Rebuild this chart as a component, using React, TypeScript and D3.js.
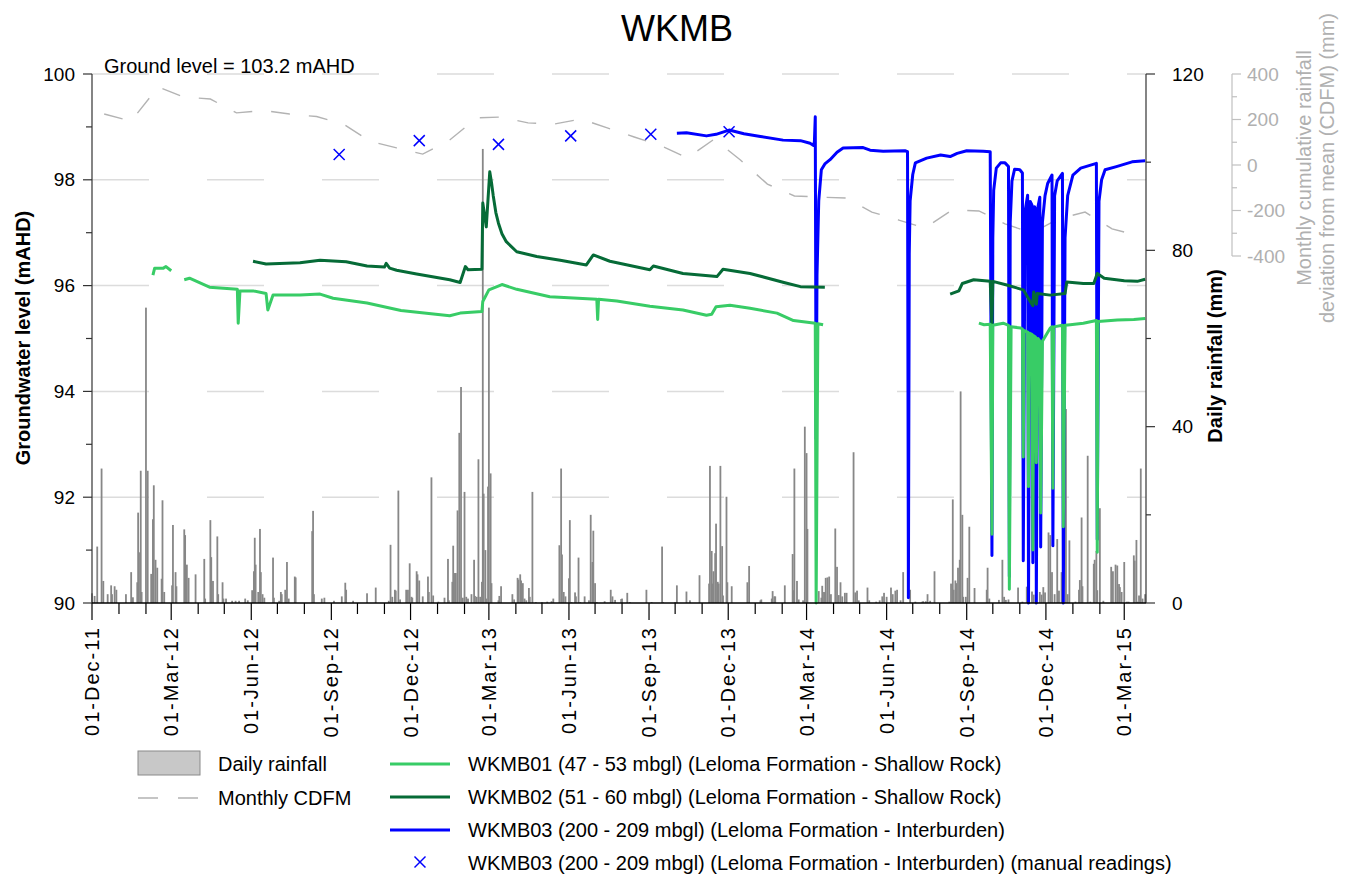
import React from "react";
import * as d3 from "d3";

// ---------- axis / label data ----------
const xStart = "2011-12-01";
const xEnd = "2015-03-26";
const gwTicks = [90, 92, 94, 96, 98, 100];
const rainTicks = [0, 40, 80, 120];
const cdfmTicks = [-400, -200, 0, 200, 400];

// ---------- daily rainfall (mm) ----------
const rainfall: [string, number][] = [
  ["2011-12-01",2.2],["2011-12-04",1.6],["2011-12-07",12.8],["2011-12-12",30.5],["2011-12-14",5],["2011-12-19",2],["2011-12-23",4],["2011-12-24",2],["2011-12-27",3.8],["2011-12-29",3],
  ["2012-01-09",2],["2012-01-15",7],["2012-01-17",1.3],["2012-01-22",4.7],["2012-01-23",20.5],["2012-01-24",11.5],["2012-01-26",30],["2012-01-27",2.5],
  ["2012-02-01",67],["2012-02-03",30],["2012-02-07",6.6],["2012-02-09",19],["2012-02-10",26.7],["2012-02-12",9.8],["2012-02-14",8],["2012-02-19",5.5],["2012-02-20",23.3],["2012-02-22",2.5],
  ["2012-03-02",4],["2012-03-03",17.7],["2012-03-06",7],["2012-03-07",3.8],["2012-03-16",16.7],["2012-03-17",15.4],["2012-03-19",8.7],["2012-03-21",5.7],["2012-03-29",6.5],
  ["2012-04-08",10],["2012-04-09",1],["2012-04-15",18.8],["2012-04-16",10.4],["2012-04-18",5],["2012-04-23",15.1],["2012-04-24",2],["2012-04-29",4.7],["2012-04-30",1],
  ["2012-05-03",1],["2012-05-10",0.5],["2012-05-14",0.5],["2012-05-18",0.5],["2012-05-25",1],["2012-05-28",0.6],
  ["2012-06-02",2.9],["2012-06-04",7.2],["2012-06-05",14.8],["2012-06-06",8.7],["2012-06-09",2.5],["2012-06-11",16.8],["2012-06-12",7],["2012-06-14",2],["2012-06-16",1.2],["2012-06-26",10.3],["2012-06-27",1.2],
  ["2012-07-03",0.5],["2012-07-05",2.5],["2012-07-06",2],["2012-07-10",3],["2012-07-12",9.3],["2012-07-14",1],["2012-07-21",6],["2012-07-22",5.8],
  ["2012-08-10",16.3],["2012-08-11",20.9],["2012-08-12",2],["2012-08-21",1],["2012-08-24",1.2],
  ["2012-09-04",0.5],["2012-09-13",1.5],["2012-09-17",4.6],["2012-09-18",3],["2012-09-26",0.5],
  ["2012-10-12",2.2],["2012-10-22",3.5],
  ["2012-11-06",0.5],["2012-11-08",13.2],["2012-11-10",1.4],["2012-11-13",3],["2012-11-14",2.8],["2012-11-17",25.5],["2012-11-19",0.8],["2012-11-26",3],["2012-11-28",3],["2012-11-30",9],
  ["2012-12-02",1.4],["2012-12-03",1.2],["2012-12-08",7.2],["2012-12-09",6.5],["2012-12-11",5.1],["2012-12-15",1.5],["2012-12-21",6],["2012-12-22",2.5],["2012-12-25",28.5],["2012-12-27",1.7],
  ["2013-01-02",0.3],["2013-01-09",1.2],["2013-01-13",10],["2013-01-14",0.6],["2013-01-18",4.8],["2013-01-19",13],["2013-01-21",6.8],["2013-01-22",6.8],["2013-01-24",21],["2013-01-26",38.6],["2013-01-28",49],["2013-01-30",1.2],
  ["2013-02-01",25.2],["2013-02-03",1.4],["2013-02-05",1],["2013-02-09",2],["2013-02-12",9.8],["2013-02-13",1.6],["2013-02-15",1.4],["2013-02-17",32.6],["2013-02-19",1.4],["2013-02-21",4.8],["2013-02-22",103],["2013-02-23",24.8],["2013-02-25",12],["2013-02-26",1],["2013-02-28",26.4],
  ["2013-03-01",67],["2013-03-03",29.4],["2013-03-04",4.5],["2013-03-12",0.6],["2013-03-13",1.6],["2013-03-15",3.8],["2013-03-28",2],["2013-03-30",0.8],
  ["2013-04-03",5.7],["2013-04-04",5.3],["2013-04-06",6.5],["2013-04-07",5.1],["2013-04-09",4.5],["2013-04-11",1],["2013-04-13",0.6],["2013-04-16",3.4],["2013-04-17",1.4],["2013-04-20",25.2],["2013-04-24",0.2],
  ["2013-05-01",0.2],["2013-05-07",0.3],["2013-05-12",0.4],["2013-05-14",1],["2013-05-21",13.1],["2013-05-23",30.5],["2013-05-24",11],["2013-05-26",2.5],["2013-05-28",1.5],
  ["2013-06-01",5.6],["2013-06-02",18.8],["2013-06-04",0.2],["2013-06-08",2.4],["2013-06-09",1.5],["2013-06-12",10.3],["2013-06-14",0.2],["2013-06-19",1.5],["2013-06-24",0.6],["2013-06-26",20],["2013-06-28",9.3],["2013-06-29",16.4],
  ["2013-07-01",4.5],["2013-07-03",0.2],["2013-07-12",0.4],["2013-07-19",3],["2013-07-21",1.5],["2013-07-24",0.7],["2013-07-31",0.9],
  ["2013-08-01",1],["2013-08-07",2.3],["2013-08-10",0.2],["2013-08-29",3],
  ["2013-09-04",0.2],["2013-09-16",12.8],["2013-09-17",0.2],
  ["2013-10-01",0.2],["2013-10-03",4],["2013-10-14",2.6],["2013-10-18",0.6],["2013-10-29",6.3],
  ["2013-11-09",4.4],["2013-11-10",31.1],["2013-11-12",11.8],["2013-11-13",4.4],["2013-11-14",7.2],["2013-11-16",11.3],["2013-11-17",18],["2013-11-19",4.8],["2013-11-20",4.4],["2013-11-22",31.1],["2013-11-24",12.9],["2013-11-25",1.7],["2013-11-29",24.1],["2013-11-30",4.7],
  ["2013-12-05",3.8],["2013-12-23",4.7],["2013-12-25",8.4],
  ["2014-01-07",0.6],["2014-01-08",0.8],["2014-01-20",1],["2014-01-21",2.7],["2014-01-23",1.5],["2014-01-24",1.5],
  ["2014-02-04",4],["2014-02-13",11.1],["2014-02-14",2.9],["2014-02-15",30.5],["2014-02-18",5],["2014-02-20",0.8],["2014-02-25",0.6],["2014-02-27",40],
  ["2014-03-01",34],["2014-03-02",16.8],["2014-03-12",1],["2014-03-15",2.7],["2014-03-18",1.2],["2014-03-19",3.9],["2014-03-21",2.5],["2014-03-22",2.4],["2014-03-23",5.7],["2014-03-25",5.8],["2014-03-27",6],["2014-03-29",2],
  ["2014-04-03",16.9],["2014-04-05",8.2],["2014-04-07",1.8],["2014-04-09",4.7],["2014-04-11",1.5],["2014-04-14",2.3],["2014-04-16",2.3],["2014-04-24",34.2],["2014-04-26",2.4],["2014-04-28",2.8],["2014-04-30",0.6],
  ["2014-05-10",3.5],["2014-05-12",0.6],["2014-05-20",0.3],["2014-05-24",0.6],["2014-05-27",1.5],["2014-05-29",2.3],
  ["2014-06-01",1.4],["2014-06-06",3.5],["2014-06-08",2],["2014-06-11",2.8],["2014-06-13",3],["2014-06-17",0.6],["2014-06-20",7],["2014-06-28",3],
  ["2014-07-04",0.3],["2014-07-12",0.3],["2014-07-13",0.4],["2014-07-16",0.4],["2014-07-18",2],["2014-07-21",0.5],["2014-07-26",7.2],
  ["2014-08-12",0.3],["2014-08-14",4.4],["2014-08-16",23.5],["2014-08-17",3],["2014-08-19",5.1],["2014-08-20",4.5],["2014-08-22",8],["2014-08-24",9.8],["2014-08-25",48],["2014-08-27",20],["2014-08-28",1.4],["2014-08-31",1.4],
  ["2014-09-02",5.7],["2014-09-04",17.3],["2014-09-10",3.4],["2014-09-24",3],["2014-09-25",8],["2014-09-27",1],
  ["2014-10-08",0.7],["2014-10-12",9.8],["2014-10-14",1.4],["2014-10-16",0.7],["2014-10-19",0.8],["2014-10-30",3.5],
  ["2014-11-04",0.3],["2014-11-09",3.7],["2014-11-15",2.6],["2014-11-17",1.9],["2014-11-24",2.5],["2014-11-26",1.9],["2014-11-28",3.6],["2014-11-30",2.4],
  ["2014-12-04",16],["2014-12-06",15.4],["2014-12-08",7],["2014-12-11",2],["2014-12-14",14.5],["2014-12-16",2.8],["2014-12-19",7],["2014-12-24",44],["2014-12-26",2],["2014-12-28",14.2],
  ["2015-01-04",0.3],["2015-01-08",3],["2015-01-09",5.2],["2015-01-11",19.4],["2015-01-12",3.8],["2015-01-18",33.4],["2015-01-21",0.3],["2015-01-25",8.9],["2015-01-26",9.8],["2015-01-28",11.8],["2015-01-29",2.9],
  ["2015-02-01",21.5],["2015-02-05",0.5],["2015-02-14",8.2],["2015-02-16",7.2],["2015-02-19",8.7],["2015-02-21",8.5],["2015-02-23",4.3],["2015-02-24",3.6],["2015-02-26",2.5],
  ["2015-03-01",9.3],["2015-03-04",0.3],["2015-03-06",0.3],["2015-03-12",10.8],["2015-03-13",9.6],["2015-03-15",14.3],["2015-03-16",0.3],["2015-03-18",1.7],["2015-03-20",30.5],["2015-03-22",1],["2015-03-25",2],
];

// ---------- monthly CDFM (mm), mid-month ----------
const cdfmMonths = [
  "2011-12-15","2012-01-15","2012-02-15","2012-03-15","2012-04-15","2012-05-15","2012-06-15","2012-07-15","2012-08-15","2012-09-15","2012-10-15","2012-11-15",
  "2012-12-15","2013-01-15","2013-02-15","2013-03-15","2013-04-15","2013-05-15","2013-06-15","2013-07-15","2013-08-15","2013-09-15","2013-10-15","2013-11-15",
  "2013-12-15","2014-01-15","2014-02-15","2014-03-15","2014-04-15","2014-05-15","2014-06-15","2014-07-15","2014-08-15","2014-09-15","2014-10-15","2014-11-15",
  "2014-12-15","2015-01-15","2015-02-15","2015-03-15",
];
const cdfmValues = [
  224,193,343,299,290,229,240,224,213,180,105,75,
  48,110,207,211,185,180,202,163,123,84,31,114,
  22,-84,-136,-141,-145,-207,-242,-277,-198,-202,-259,-299,
  -237,-207,-281,-308,
];

// ---------- groundwater levels (mAHD) ----------
type Pt = [string, number | null];
const wkmb01: Pt[] = [
  ["2012-02-09",96.2],["2012-02-11",96.33],["2012-02-21",96.33],["2012-02-24",96.36],["2012-03-01",96.28],["2012-03-08",null],
  ["2012-03-16",96.11],["2012-03-22",96.14],["2012-04-14",95.97],["2012-05-16",95.93],["2012-05-17",95.29],["2012-05-19",95.9],["2012-06-03",95.9],
  ["2012-06-18",95.85],["2012-06-20",95.54],["2012-06-26",95.82],["2012-07-27",95.82],["2012-08-19",95.84],["2012-09-03",95.76],["2012-10-12",95.67],
  ["2012-11-20",95.53],["2013-01-15",95.43],["2013-01-27",95.48],["2013-02-21",95.51],["2013-02-22",95.7],["2013-03-01",95.92],["2013-03-16",96.02],
  ["2013-04-02",95.93],["2013-05-10",95.79],["2013-07-03",95.74],["2013-07-04",95.36],["2013-07-05",95.74],["2013-07-26",95.71],["2013-09-02",95.61],
  ["2013-10-10",95.54],["2013-11-06",95.44],["2013-11-12",95.46],["2013-11-17",95.6],["2013-12-03",95.63],["2013-12-26",95.57],["2014-01-26",95.48],
  ["2014-02-14",95.34],["2014-03-11",95.29],["2014-03-12",90.0],["2014-03-14",95.28],["2014-03-17",95.27],["2014-03-20",95.26],["2014-04-01",null],
  ["2014-09-15",95.29],["2014-09-21",95.26],["2014-09-28",95.27],["2014-09-30",91.3],["2014-10-01",95.25],["2014-10-13",95.29],["2014-10-19",95.25],
  ["2014-10-20",90.26],["2014-10-22",95.22],["2014-11-02",95.2],["2014-11-04",95.18],["2014-11-05",92.76],["2014-11-06",95.15],["2014-11-10",95.12],
  ["2014-11-11",92.2],["2014-11-12",95.1],["2014-11-15",95.08],["2014-11-16",91.0],["2014-11-17",95.05],["2014-11-19",95.03],["2014-11-20",92.65],
  ["2014-11-22",95.0],["2014-11-24",94.95],["2014-11-25",91.7],["2014-11-27",94.95],["2014-12-06",95.2],["2014-12-08",95.22],["2014-12-09",92.17],
  ["2014-12-10",95.22],["2014-12-20",95.25],["2014-12-21",91.44],["2014-12-23",95.25],["2014-12-29",95.26],["2015-01-13",95.29],["2015-01-28",95.34],
  ["2015-01-29",90.96],["2015-01-30",95.32],["2015-02-21",95.35],["2015-03-12",95.36],["2015-03-25",95.38],
];
const wkmb02: Pt[] = [
  ["2012-06-03",96.46],["2012-06-18",96.41],["2012-07-27",96.43],["2012-08-19",96.48],["2012-09-18",96.45],["2012-10-12",96.37],["2012-11-01",96.35],
  ["2012-11-03",96.42],["2012-11-07",96.33],["2012-11-15",96.29],["2012-12-08",96.22],["2013-01-15",96.11],["2013-01-27",96.06],["2013-02-02",96.36],
  ["2013-02-05",96.3],["2013-02-21",96.31],["2013-02-22",97.56],["2013-02-26",97.11],["2013-03-02",98.15],["2013-03-04",97.95],["2013-03-06",97.7],
  ["2013-03-09",97.38],["2013-03-12",97.18],["2013-03-16",96.98],["2013-03-21",96.83],["2013-04-02",96.64],["2013-04-25",96.55],["2013-05-22",96.48],
  ["2013-06-21",96.39],["2013-06-29",96.58],["2013-07-18",96.46],["2013-09-02",96.3],["2013-09-06",96.37],["2013-10-10",96.23],["2013-11-18",96.17],
  ["2013-11-25",96.31],["2013-12-26",96.23],["2014-02-03",96.06],["2014-02-22",95.98],["2014-03-22",95.97],["2014-04-01",null],
  ["2014-08-13",95.84],["2014-08-23",95.9],["2014-08-27",96.04],["2014-09-09",96.11],["2014-09-28",96.08],["2014-09-30",95.2],["2014-10-01",96.08],
  ["2014-10-17",96.01],["2014-11-05",95.92],["2014-11-16",95.62],["2014-11-17",95.88],["2014-11-20",95.65],["2014-11-21",95.85],["2014-12-06",95.82],
  ["2014-12-23",95.85],["2014-12-25",96.07],["2015-01-13",96.04],["2015-01-25",96.04],["2015-01-29",96.23],["2015-02-06",96.14],["2015-03-01",96.09],
  ["2015-03-16",96.08],["2015-03-25",96.12],
];
const wkmb03: Pt[] = [
  ["2013-10-03",98.88],["2013-10-14",98.89],["2013-11-06",98.83],["2013-11-17",98.86],["2013-12-02",98.94],["2013-12-19",98.87],["2014-01-07",98.82],
  ["2014-02-02",98.75],["2014-02-22",98.74],["2014-03-05",98.69],["2014-03-09",98.65],["2014-03-10",98.72],["2014-03-11",99.19],["2014-03-12",93.1],
  ["2014-03-13",96.2],["2014-03-15",97.6],["2014-03-18",98.19],["2014-03-22",98.3],["2014-03-28",98.38],["2014-04-05",98.52],["2014-04-12",98.6],
  ["2014-05-05",98.61],["2014-05-13",98.56],["2014-05-28",98.54],["2014-06-22",98.55],["2014-06-25",98.53],["2014-06-26",90.1],["2014-06-27",96.6],
  ["2014-06-28",97.6],["2014-07-01",98.1],["2014-07-04",98.32],["2014-07-17",98.41],["2014-08-02",98.47],["2014-08-13",98.44],["2014-08-21",98.5],
  ["2014-09-01",98.55],["2014-09-20",98.54],["2014-09-28",98.53],["2014-09-30",90.9],["2014-10-01",96.9],["2014-10-02",97.8],["2014-10-05",98.22],
  ["2014-10-10",98.32],["2014-10-15",98.32],["2014-10-19",98.25],["2014-10-20",90.5],["2014-10-21",97.2],["2014-10-23",97.98],["2014-10-26",98.2],
  ["2014-11-01",98.19],["2014-11-04",98.13],["2014-11-05",90.8],["2014-11-07",97.4],["2014-11-10",97.71],["2014-11-11",90.0],["2014-11-13",97.59],
  ["2014-11-15",97.52],["2014-11-16",90.76],["2014-11-18",97.49],["2014-11-19",97.45],["2014-11-20",90.0],["2014-11-22",97.5],["2014-11-24",97.67],
  ["2014-11-25",91.06],["2014-11-27",97.2],["2014-11-30",97.7],["2014-12-03",97.93],["2014-12-08",98.09],["2014-12-09",91.08],["2014-12-11",97.7],
  ["2014-12-14",97.98],["2014-12-20",98.12],["2014-12-21",90.0],["2014-12-23",96.9],["2014-12-26",97.7],["2015-01-01",98.09],["2015-01-10",98.22],
  ["2015-01-28",98.31],["2015-01-29",91.2],["2015-01-31",97.6],["2015-02-03",98.0],["2015-02-07",98.19],["2015-02-20",98.25],["2015-03-10",98.34],
  ["2015-03-25",98.36],
];
const manualDates = ["2012-09-10","2012-12-11","2013-03-12","2013-06-03","2013-09-03","2013-12-02"];
const manualLevels = [98.48, 98.74, 98.67, 98.83, 98.86, 98.91];

// ---------- text ----------
const title = "WKMB";
const groundLevel = "Ground level = 103.2 mAHD";
const legendLeft = ["Daily rainfall", "Monthly CDFM"];
const legendLines = [
  "WKMB01 (47 - 53 mbgl) (Leloma Formation - Shallow Rock)",
  "WKMB02 (51 - 60 mbgl) (Leloma Formation - Shallow Rock)",
  "WKMB03 (200 - 209 mbgl) (Leloma Formation - Interburden)",
  "WKMB03 (200 - 209 mbgl) (Leloma Formation - Interburden) (manual readings)",
];

const C01 = "#38cc66";
const C02 = "#066b37";
const C03 = "#0000ff";
const FONT = "'Liberation Sans', Arial, sans-serif";

export default function App() {
  const parse = d3.utcParse("%Y-%m-%d");
  const P = (s: string) => parse(s) as Date;
  const L = 92, R = 1146, T = 74, B = 603;
  const x = d3.scaleUtc().domain([P(xStart), P(xEnd)]).range([L, R]);
  const yGW = d3.scaleLinear().domain([90, 100]).range([B, T]);
  const yRain = d3.scaleLinear().domain([0, 120]).range([B, T]);
  const yC = d3.scaleLinear().domain([-400, 400]).range([256, T]);

  const gwLine = d3.line<Pt>()
    .defined((d) => d[1] !== null)
    .x((d) => x(P(d[0])))
    .y((d) => yGW(d[1] as number));
  const cdfmLine = d3.line<number>()
    .x((_, i) => x(P(cdfmMonths[i])))
    .y((d) => yC(d));

  const months = d3.utcMonth.range(P(xStart), P(xEnd));
  const fmt = d3.utcFormat("%d-%b-%y");
  const gwMinor = d3.range(90, 100.5, 1);
  const rainMinor = d3.range(0, 121, 20);
  const cMinor = d3.range(-400, 401, 100);
  const CX = 1232;

  return (
    <svg width={1354} height={877} style={{ position: "absolute", left: 0, top: 0, background: "#fff" }} fontFamily={FONT}>
      <rect x={0} y={0} width={1354} height={877} fill="#fff" />
      {/* grid */}
      {gwTicks.filter((v) => v > 90).map((v) => (
        <line key={"g" + v} x1={L} x2={R} y1={yGW(v)} y2={yGW(v)} stroke="#dcdcdc" strokeWidth={1.5} strokeDasharray="57 58" />
      ))}
      {/* rainfall bars */}
      {rainfall.map(([d, v], i) => (
        <rect key={"r" + i} x={x(P(d)) - 0.9} y={yRain(v)} width={1.8} height={B - yRain(v)} fill="#878787" />
      ))}
      {/* CDFM */}
      <path d={cdfmLine(cdfmValues) || ""} fill="none" stroke="#b3b3b3" strokeWidth={1.4} strokeDasharray="19 19" />
      {/* groundwater */}
      <path d={gwLine(wkmb03) || ""} fill="none" stroke={C03} strokeWidth={3} strokeLinejoin="round" />
      <path d={gwLine(wkmb02) || ""} fill="none" stroke={C02} strokeWidth={3} strokeLinejoin="round" />
      <path d={gwLine(wkmb01) || ""} fill="none" stroke={C01} strokeWidth={3} strokeLinejoin="round" />
      {manualDates.map((d, i) => {
        const cx = x(P(d)), cy = yGW(manualLevels[i]);
        return (
          <g key={"m" + i} stroke={C03} strokeWidth={1.5}>
            <line x1={cx - 5.5} y1={cy - 5.5} x2={cx + 5.5} y2={cy + 5.5} />
            <line x1={cx - 5.5} y1={cy + 5.5} x2={cx + 5.5} y2={cy - 5.5} />
          </g>
        );
      })}

      {/* left axis */}
      <line x1={L} x2={L} y1={T} y2={B} stroke="#333" strokeWidth={1.2} />
      {gwMinor.map((v) => (
        <line key={"lt" + v} x1={L - (v % 2 === 0 ? 9 : 6)} x2={L} y1={yGW(v)} y2={yGW(v)} stroke="#333" strokeWidth={1.2} />
      ))}
      {gwTicks.map((v) => (
        <text key={"ll" + v} x={75} y={yGW(v)} dy="0.35em" textAnchor="end" fontSize={19} fill="#000">{v}</text>
      ))}
      <text transform={`translate(30,338) rotate(-90)`} textAnchor="middle" fontSize={20} fontWeight="bold">Groundwater level (mAHD)</text>

      {/* right rainfall axis */}
      <line x1={R} x2={R} y1={T} y2={B} stroke="#333" strokeWidth={1.2} />
      {rainMinor.map((v) => (
        <line key={"rt" + v} x1={R} x2={R + (v % 40 === 0 ? 9 : 5)} y1={yRain(v)} y2={yRain(v)} stroke="#333" strokeWidth={1.2} />
      ))}
      {rainTicks.map((v) => (
        <text key={"rl" + v} x={1172} y={yRain(v)} dy="0.35em" fontSize={19}>{v}</text>
      ))}
      <text transform={`translate(1222,356) rotate(-90)`} textAnchor="middle" fontSize={20} fontWeight="bold">Daily rainfall (mm)</text>

      {/* CDFM axis */}
      <line x1={CX} x2={CX} y1={T} y2={256} stroke="#c0c0c0" strokeWidth={1.2} />
      {cMinor.map((v) => (
        <line key={"ct" + v} x1={CX} x2={CX + (v % 200 === 0 ? 9 : 5)} y1={yC(v)} y2={yC(v)} stroke="#c0c0c0" strokeWidth={1.2} />
      ))}
      {cdfmTicks.map((v) => (
        <text key={"cl" + v} x={1247} y={yC(v)} dy="0.35em" fontSize={19} fill="#b0b0b0">{v}</text>
      ))}
      <text transform={`translate(1311,168) rotate(-90)`} textAnchor="middle" fontSize={20} fill="#b0b0b0">Monthly cumulative rainfall</text>
      <text transform={`translate(1334,168) rotate(-90)`} textAnchor="middle" fontSize={20} fill="#b0b0b0">deviation from mean (CDFM) (mm)</text>

      {/* bottom axis */}
      <line x1={L} x2={R} y1={B} y2={B} stroke="#000" strokeWidth={1.5} />
      {months.map((m, i) => {
        const major = m.getUTCMonth() % 3 === 2;
        return <line key={"xt" + i} x1={x(m)} x2={x(m)} y1={B} y2={B + (major ? 17 : 11)} stroke="#000" strokeWidth={1.2} />;
      })}
      {months.filter((m) => m.getUTCMonth() % 3 === 2).map((m, i) => (
        <text key={"xl" + i} transform={`translate(${x(m) + 7},626) rotate(-90)`} textAnchor="end" fontSize={20} letterSpacing={2}>{fmt(m)}</text>
      ))}

      {/* titles */}
      <text x={677} y={41} textAnchor="middle" fontSize={36}>{title}</text>
      <text x={104} y={73} fontSize={20}>{groundLevel}</text>

      {/* legend */}
      <rect x={138} y={751} width={62} height={24} fill="#c8c8c8" stroke="#8a8a8a" strokeWidth={1} />
      <line x1={138} x2={200} y1={798} y2={798} stroke="#b3b3b3" strokeWidth={1.4} strokeDasharray="20 20" />
      {legendLeft.map((t, i) => (
        <text key={"lg" + i} x={218} y={764 + i * 34 + 7} fontSize={20}>{t}</text>
      ))}
      <line x1={390} x2={450} y1={764} y2={764} stroke={C01} strokeWidth={3} />
      <line x1={390} x2={450} y1={797} y2={797} stroke={C02} strokeWidth={3} />
      <line x1={390} x2={450} y1={830} y2={830} stroke={C03} strokeWidth={3} />
      <g stroke={C03} strokeWidth={1.5}>
        <line x1={414.5} y1={856.5} x2={425.5} y2={867.5} />
        <line x1={414.5} y1={867.5} x2={425.5} y2={856.5} />
      </g>
      {legendLines.map((t, i) => (
        <text key={"ll2" + i} x={468} y={764 + i * 33 + 7} fontSize={20}>{t}</text>
      ))}
    </svg>
  );
}
